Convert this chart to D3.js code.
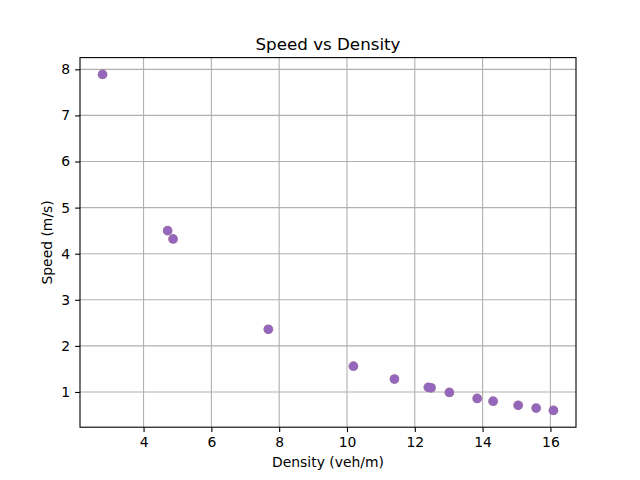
<!DOCTYPE html>
<html>
<head>
<meta charset="utf-8">
<script src="https://cdn.jsdelivr.net/npm/d3@7"></script>
<style>
  body { margin: 0; background: #fff; }
  text { font-family: "DejaVu Sans", sans-serif; }
</style>
</head>
<body>
<div id="chart-area"></div>
<script>
// SVG Size
let width = 640,
	height = 480;

// values
let density = [2.79, 4.71, 4.87, 7.68, 10.19, 11.40, 12.40, 12.48, 13.02, 13.84, 14.31, 15.05, 15.58, 16.09];
let speed = [7.89, 4.50, 4.32, 2.36, 1.56, 1.28, 1.10, 1.09, 0.99, 0.86, 0.80, 0.71, 0.65, 0.60];
let xTicks = [4, 6, 8, 10, 12, 14, 16];
let yTicks = [1, 2, 3, 4, 5, 6, 7, 8];

let data = density.map((d, i) => ({ Density: d, Speed: speed[i] }));

drawChart(data);

function drawChart(data) {
	let margin = { left: 80, right: 64, top: 57.6, bottom: 52.8 };
	let w = width - margin.left - margin.right,
		h = height - margin.top - margin.bottom;

	let svg = d3.select("#chart-area")
		.append("svg")
		.attr("width", width)
		.attr("height", height);

	// matplotlib style 5% padding
	let xExt = d3.extent(data, d => d.Density),
		yExt = d3.extent(data, d => d.Speed);
	let xPad = (xExt[1] - xExt[0]) * 0.05,
		yPad = (yExt[1] - yExt[0]) * 0.05;

	let x = d3.scaleLinear()
		.domain([xExt[0] - xPad, xExt[1] + xPad])
		.range([margin.left, margin.left + w]);

	let y = d3.scaleLinear()
		.domain([yExt[0] - yPad, yExt[1] + yPad])
		.range([margin.top + h, margin.top]);

	// grid
	svg.append("g")
		.selectAll("line")
		.data(xTicks)
		.enter()
		.append("line")
		.attr("x1", d => x(d)).attr("x2", d => x(d))
		.attr("y1", margin.top).attr("y2", margin.top + h)
		.attr("stroke", "#b0b0b0")
		.attr("stroke-width", 1.1);

	svg.append("g")
		.selectAll("line")
		.data(yTicks)
		.enter()
		.append("line")
		.attr("y1", d => y(d)).attr("y2", d => y(d))
		.attr("x1", margin.left).attr("x2", margin.left + w)
		.attr("stroke", "#b0b0b0")
		.attr("stroke-width", 1.1);

	// points (brown layer under the purple gives the faint edge)
	svg.append("g")
		.selectAll("circle")
		.data(data)
		.enter()
		.append("circle")
		.attr("cx", d => x(d.Density))
		.attr("cy", d => y(d.Speed))
		.attr("r", 4.9)
		.attr("fill", "#8c564b")
		.attr("fill-opacity", 0.6);

	svg.append("g")
		.selectAll("circle")
		.data(data)
		.enter()
		.append("circle")
		.attr("cx", d => x(d.Density))
		.attr("cy", d => y(d.Speed))
		.attr("r", 4.6)
		.attr("fill", "#9467bd");

	let xAxis = d3.axisBottom(x).tickValues(xTicks).tickSize(4.9).tickPadding(4.9).tickSizeOuter(0);
	let yAxis = d3.axisLeft(y).tickValues(yTicks).tickSize(4.9).tickPadding(4.9).tickSizeOuter(0);

	let gx = svg.append("g")
		.attr("transform", "translate(0," + (margin.top + h) + ")")
		.call(xAxis);
	let gy = svg.append("g")
		.attr("transform", "translate(" + margin.left + ",0)")
		.call(yAxis);

	[gx, gy].forEach(g => {
		g.select(".domain").remove();
		g.selectAll("line").attr("stroke", "#000").attr("stroke-width", 1.1);
		g.selectAll("text").attr("font-size", 13.9).attr("fill", "#000")
			.style("font-family", "DejaVu Sans, sans-serif");
	});

	// frame
	svg.append("rect")
		.attr("x", margin.left)
		.attr("y", margin.top)
		.attr("width", w)
		.attr("height", h)
		.attr("fill", "none")
		.attr("stroke", "#000")
		.attr("stroke-width", 1.1);

	svg.append("text")
		.attr("x", margin.left + w / 2)
		.attr("y", margin.top - 8)
		.attr("text-anchor", "middle")
		.attr("font-size", 16.7)
		.text("Speed vs Density");

	svg.append("text")
		.attr("x", margin.left + w / 2)
		.attr("y", 467)
		.attr("text-anchor", "middle")
		.attr("font-size", 13.9)
		.text("Density (veh/m)");

	svg.append("text")
		.attr("x", -(margin.top + h / 2))
		.attr("y", 52)
		.attr("transform", "rotate(-90)")
		.attr("text-anchor", "middle")
		.attr("font-size", 13.9)
		.text("Speed (m/s)");
}
</script>
</body>
</html>
